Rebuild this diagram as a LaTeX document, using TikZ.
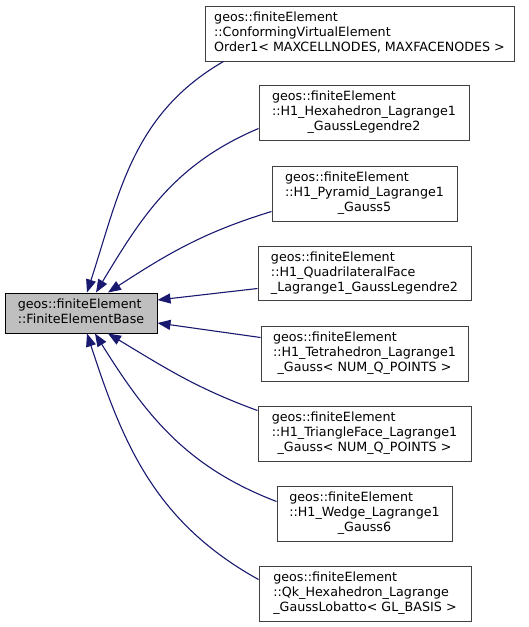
\documentclass[tikz,border=0pt]{standalone}
\usepackage{fontspec}
\setmainfont{DejaVu Sans}
\usetikzlibrary{arrows.meta}
\definecolor{edgeblue}{HTML}{191970}
\definecolor{basegray}{HTML}{BFBFBF}
\newcommand{\twolines}[2]{\begin{tabular}{@{}l@{}}#1\\\multicolumn{1}{@{}c@{}}{#2}\end{tabular}}
\newcommand{\threelines}[3]{\begin{tabular}{@{}l@{}}#1\\#2\\\multicolumn{1}{@{}c@{}}{#3}\end{tabular}}
\begin{document}
\begin{tikzpicture}[x=1pt,y=1pt]
        \useasboundingbox (0,0) rectangle (529,-627);
        \begin{scope}[every node/.style={draw=black!75,line width=1pt,fill=white,inner sep=0pt,minimum height=55pt,font=\fontsize{12.7}{15}\selectfont}]
        \node[fill=basegray,draw=black,minimum width=152pt,minimum height=40pt] (base) at (81,-313) {\twolines{geos::finiteElement}{::FiniteElementBase}};
        \node[minimum width=309pt] (cve) at (359.5,-33.5) {\threelines{geos::finiteElement}{::ConformingVirtualElement}{Order1< MAXCELLNODES, MAXFACENODES >}};
        \node[minimum width=210pt] (hexa) at (364,-112.5) {\threelines{geos::finiteElement}{::H1\_Hexahedron\_Lagrange1}{\_GaussLegendre2}};
        \node[minimum width=185pt] (pyr) at (364.5,-193.5) {\threelines{geos::finiteElement}{::H1\_Pyramid\_Lagrange1}{\_Gauss5}};
        \node[minimum width=213pt,minimum height=54pt] (quad) at (364.5,-273) {\threelines{geos::finiteElement}{::H1\_QuadrilateralFace}{\_Lagrange1\_GaussLegendre2}};
        \node[minimum width=207pt] (tet) at (364.5,-353.5) {\threelines{geos::finiteElement}{::H1\_Tetrahedron\_Lagrange1}{\_Gauss< NUM\_Q\_POINTS >}};
        \node[minimum width=213pt] (tri) at (364.5,-433.5) {\threelines{geos::finiteElement}{::H1\_TriangleFace\_Lagrange1}{\_Gauss< NUM\_Q\_POINTS >}};
        \node[minimum width=175pt] (wedge) at (364.5,-513.5) {\threelines{geos::finiteElement}{::H1\_Wedge\_Lagrange1}{\_Gauss6}};
        \node[minimum width=212pt] (qk) at (365,-593.5) {\threelines{geos::finiteElement}{::Qk\_Hexahedron\_Lagrange}{\_GaussLobatto< GL\_BASIS >}};
        \end{scope}
        \begin{scope}[every edge/.style={draw=edgeblue,line width=1.1pt,-{Triangle[length=13pt,width=10pt]}}]
        \path ([xshift=19pt]cve.south west) edge[out=210,in=72] ([xshift=6pt]base.north);
        \path ([yshift=12pt]hexa.south west) edge[out=203,in=59] ([xshift=15pt]base.north);
        \path ([yshift=10pt]pyr.south west) edge[out=197,in=33] ([xshift=27pt]base.north);
        \path ([yshift=12pt]quad.south west) edge ([yshift=13pt]base.east);
        \path ([yshift=-12pt]tet.north west) edge ([yshift=-10pt]base.east);
        \path ([yshift=-5pt]tri.north west) edge[out=160,in=-31] ([xshift=27pt]base.south);
        \path ([yshift=-16pt]wedge.north west) edge[out=159,in=-58] ([xshift=14pt]base.south);
        \path ([yshift=-14pt]qk.north west) edge[out=151,in=-72] ([xshift=6pt]base.south);
        \end{scope}
        \end{tikzpicture}
\end{document}
